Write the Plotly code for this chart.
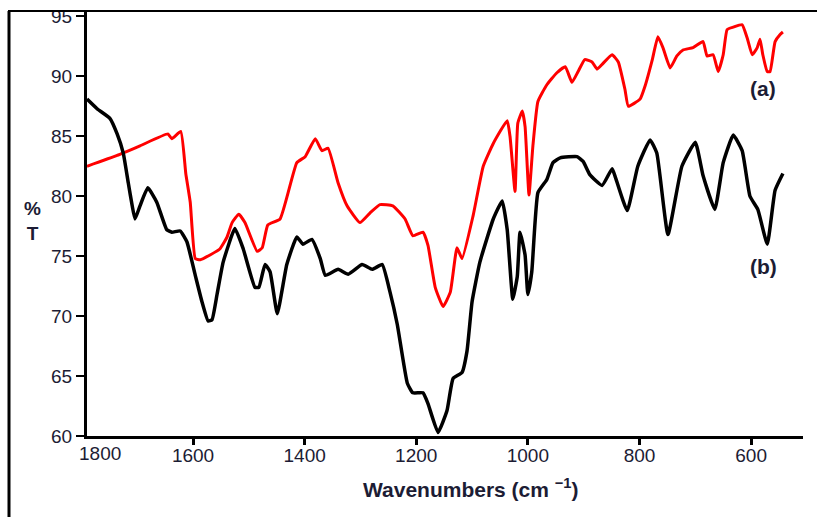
import plotly.graph_objects as go

# Spectrum (a) - red
wn_a = [1790, 1736, 1695, 1645, 1638, 1622, 1613, 1605, 1596, 1587, 1552, 1539, 1530, 1518, 1507,
        1485, 1476, 1466, 1444, 1414, 1399, 1381, 1369, 1358, 1340, 1324, 1301, 1283, 1265, 1242,
        1220, 1206, 1188, 1179, 1166, 1152, 1139, 1127, 1118, 1098, 1080, 1062, 1037, 1032, 1023,
        1018, 1010, 1005, 998, 991, 982, 966, 948, 933, 921, 910, 898, 885, 876, 867, 849, 838,
        826, 820, 799, 790, 777, 767, 758, 745, 733, 722, 704, 686, 679, 668, 659, 650, 643, 632,
        616, 607, 598, 589, 584, 579, 571, 566, 557, 548, 543]
t_a = [82.5, 83.4, 84.2, 85.2, 84.8, 85.4, 81.9, 79.5, 74.8, 74.7, 75.6, 76.6, 77.8, 78.5, 77.8,
       75.4, 75.7, 77.6, 78.1, 82.8, 83.3, 84.8, 83.8, 84.0, 81.1, 79.2, 77.8, 78.6, 79.3, 79.2,
       78.1, 76.7, 77.0, 75.9, 72.4, 70.8, 72.0, 75.7, 74.8, 78.4, 82.5, 84.4, 86.3, 85.0, 80.4,
       86.1, 87.1, 85.8, 80.1, 84.2, 87.9, 89.3, 90.3, 90.8, 89.5, 90.4, 91.4, 91.2, 90.6, 91.0,
       91.8, 91.2, 88.9, 87.5, 88.1, 89.2, 91.4, 93.3, 92.4, 90.7, 91.7, 92.2, 92.4, 92.9, 91.7,
       91.8, 90.4, 91.8, 93.9, 94.1, 94.3, 93.2, 91.8, 92.4, 93.1, 91.8, 90.4, 90.4, 92.9, 93.5,
       93.7]

# Spectrum (b) - black
wn_b = [1790, 1772, 1749, 1736, 1725, 1716, 1709, 1704, 1695, 1681, 1665, 1647, 1638, 1623, 1611,
        1596, 1584, 1573, 1566, 1557, 1546, 1525, 1510, 1489, 1482, 1471, 1462, 1449, 1432, 1414,
        1403, 1387, 1372, 1363, 1340, 1322, 1297, 1279, 1261, 1247, 1234, 1216, 1206, 1188, 1179,
        1161, 1145, 1134, 1118, 1109, 1100, 1086, 1062, 1046, 1037, 1027, 1019, 1014, 1005, 1000,
        993, 982, 966, 955, 942, 912, 901, 889, 867, 849, 844, 822, 803, 781, 769, 749, 724, 700,
        686, 665, 650, 632, 616, 602, 588, 571, 557, 543]
t_b = [88.1, 87.3, 86.5, 85.2, 83.6, 81.1, 79.2, 78.1, 79.2, 80.7, 79.5, 77.2, 77.0, 77.1, 76.2,
       73.4, 71.2, 69.6, 69.7, 71.8, 74.5, 77.3, 75.6, 72.4, 72.4, 74.3, 73.7, 70.2, 74.3, 76.6,
       76.0, 76.4, 74.8, 73.4, 73.9, 73.5, 74.3, 73.9, 74.3, 72.0, 69.3, 64.4, 63.6, 63.6, 62.7,
       60.3, 62.1, 64.8, 65.3, 67.1, 71.2, 74.5, 78.1, 79.6, 77.2, 71.4, 73.3, 77.0, 75.1, 71.8,
       73.7, 80.3, 81.4, 82.8, 83.2, 83.3, 82.9, 81.8, 80.9, 82.3, 81.7, 78.8, 82.5, 84.7, 83.6,
       76.8, 82.5, 84.5, 81.7, 78.9, 82.8, 85.1, 83.8, 80.0, 78.9, 76.0, 80.5, 81.9]

x_ticks = [1600, 1400, 1200, 1000, 800, 600]
y_ticks = [60, 65, 70, 75, 80, 85, 90, 95]

TXT = "#1c1c34"
FONT = "Liberation Sans, Arial, sans-serif"

fig = go.Figure()
fig.add_trace(go.Scatter(x=wn_a, y=t_a, mode="lines",
                         line=dict(color="#ff0000", width=3, shape="spline", smoothing=0.4),
                         showlegend=False))
fig.add_trace(go.Scatter(x=wn_b, y=t_b, mode="lines",
                         line=dict(color="#000000", width=3.5, shape="spline", smoothing=0.4),
                         showlegend=False))

fig.update_layout(
    width=817, height=518,
    margin=dict(l=87, r=14, t=6, b=82),
    paper_bgcolor="white", plot_bgcolor="white",
    font=dict(family=FONT, color=TXT, size=19),
    xaxis=dict(range=[1790, 507], tickvals=x_ticks, ticks="outside", ticklen=6, tickwidth=3,
               tickcolor="black", showline=True, linecolor="black", linewidth=3,
               ticklabelstandoff=-6,
               showgrid=False, zeroline=False, tickfont=dict(size=19, color=TXT)),
    yaxis=dict(range=[60, 95.45], tickvals=y_ticks, ticks="outside", ticklen=8, tickwidth=2,
               tickcolor="black", showline=True, linecolor="black", linewidth=3,
               showgrid=False, zeroline=False, tickfont=dict(size=19, color=TXT)),
)

W = 716.0
H = 430.0
def px(x):
    return (x - 87) / W
def py(y):
    return (436 - y) / H

# outer frame lines
fig.add_shape(type="line", xref="paper", yref="paper", x0=px(8), x1=px(817), y0=py(6), y1=py(6),
              line=dict(color="black", width=2))
fig.add_shape(type="line", xref="paper", yref="paper", x0=px(9), x1=px(9), y0=py(6), y1=py(518),
              line=dict(color="black", width=3))

# 1800 tick label (sits just left of the plotted range)
fig.add_annotation(xref="paper", yref="paper", x=px(100), y=py(454), text="1800", showarrow=False,
                   font=dict(size=19, color=TXT), xanchor="center", yanchor="middle")

# axis titles
fig.add_annotation(xref="paper", yref="paper", x=px(471), y=py(489),
                   text="<b>Wavenumbers (cm <sup>−1</sup>)</b>", showarrow=False,
                   font=dict(size=21, color=TXT), xanchor="center", yanchor="middle")
fig.add_annotation(xref="paper", yref="paper", x=px(32), y=py(218),
                   text="<b>%<br>T</b>", showarrow=False,
                   font=dict(size=19, color=TXT), xanchor="center", yanchor="middle")

# series labels
fig.add_annotation(xref="paper", yref="paper", x=px(763), y=py(84), text="<b>(a)</b>",
                   showarrow=False, font=dict(size=21, color=TXT), xanchor="center", yanchor="middle")
fig.add_annotation(xref="paper", yref="paper", x=px(763), y=py(264), text="<b>(b)</b>",
                   showarrow=False, font=dict(size=21, color=TXT), xanchor="center", yanchor="middle")

fig.write_html("out.html", config={"displayModeBar": False},
               post_script="document.body.style.margin='0px';")
